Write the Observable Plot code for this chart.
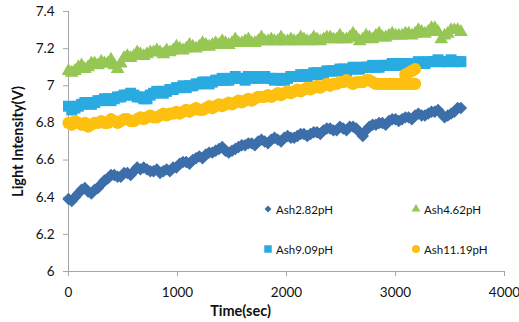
<!DOCTYPE html>
<html>
<head>
<meta charset="utf-8">
<script src="https://cdn.jsdelivr.net/npm/d3@7"></script>
<script src="https://cdn.jsdelivr.net/npm/@observablehq/plot@0.6"></script>
<style>
  html, body { margin: 0; padding: 0; background: #fff; }
  #chart { position: relative; width: 519px; height: 322px; font-family: Lato, "Open Sans", sans-serif; }
  #legend { position: absolute; left: 263px; top: 202px; display: grid;
            grid-template-columns: 148px 148px; grid-auto-rows: 40px; }
  .item { display: flex; align-items: center; height: 14px; font-size: 11.5px; color: #111; }
  .item svg { width: 10px; height: 10px; margin-right: 3px; flex: none; }
</style>
</head>
<body>
<div id="chart"></div>
<script>
// Sampling times (s), one reading every 30 s
const time = [
  0,30,60,90,120,150,180,210,240,270,300,330,360,390,420,450,480,510,540,570,
  600,630,660,690,720,750,780,810,840,870,900,930,960,990,1020,1050,1080,1110,1140,1170,
  1200,1230,1260,1290,1320,1350,1380,1410,1440,1470,1500,1530,1560,1590,1620,1650,1680,1710,1740,1770,
  1800,1830,1860,1890,1920,1950,1980,2010,2040,2070,2100,2130,2160,2190,2220,2250,2280,2310,2340,2370,
  2400,2430,2460,2490,2520,2550,2580,2610,2640,2670,2700,2730,2760,2790,2820,2850,2880,2910,2940,2970,
  3000,3030,3060,3090,3120,3150,3180,3210,3240,3270,3300,3330,3360,3390,3420,3450,3480,3510,3540,3570,
  3600];

// Light intensity (V) for each ash sample
const ash282 = [
  6.39,6.38,6.40,6.42,6.44,6.45,6.43,6.42,6.44,6.45,6.47,6.49,6.50,6.52,6.52,6.51,6.51,6.53,6.53,6.52,
  6.54,6.56,6.55,6.56,6.55,6.54,6.54,6.55,6.53,6.54,6.55,6.54,6.56,6.56,6.58,6.59,6.59,6.58,6.60,6.61,
  6.62,6.61,6.63,6.64,6.64,6.65,6.66,6.67,6.65,6.64,6.65,6.66,6.67,6.68,6.68,6.69,6.69,6.68,6.70,6.71,
  6.70,6.69,6.71,6.72,6.71,6.70,6.72,6.73,6.72,6.72,6.73,6.74,6.74,6.73,6.74,6.75,6.75,6.74,6.76,6.77,
  6.77,6.76,6.76,6.78,6.77,6.76,6.78,6.78,6.77,6.75,6.73,6.76,6.78,6.79,6.79,6.80,6.80,6.79,6.81,6.82,
  6.82,6.81,6.82,6.83,6.83,6.82,6.84,6.85,6.84,6.84,6.85,6.86,6.86,6.87,6.85,6.83,6.84,6.85,6.86,6.88,
  6.88];

const ash462 = [
  7.08,7.07,7.08,7.10,7.11,7.09,7.10,7.12,7.12,7.11,7.13,7.12,7.12,7.14,7.11,7.09,7.12,7.15,7.16,7.15,
  7.16,7.18,7.17,7.16,7.17,7.18,7.18,7.19,7.18,7.17,7.19,7.18,7.19,7.21,7.20,7.19,7.20,7.22,7.21,7.20,
  7.21,7.23,7.22,7.21,7.22,7.23,7.22,7.24,7.23,7.22,7.23,7.25,7.23,7.23,7.24,7.25,7.23,7.23,7.24,7.26,
  7.24,7.24,7.25,7.24,7.24,7.26,7.24,7.24,7.25,7.24,7.24,7.26,7.25,7.24,7.24,7.26,7.25,7.24,7.25,7.26,
  7.26,7.25,7.25,7.27,7.25,7.25,7.26,7.28,7.26,7.24,7.25,7.27,7.26,7.25,7.27,7.28,7.26,7.26,7.27,7.28,
  7.27,7.27,7.27,7.28,7.28,7.27,7.28,7.30,7.29,7.28,7.29,7.31,7.31,7.29,7.25,7.27,7.28,7.30,7.30,7.30,
  7.29];

const ash909 = [
  6.89,6.87,6.88,6.89,6.90,6.91,6.91,6.90,6.91,6.92,6.92,6.93,6.93,6.92,6.93,6.94,6.94,6.95,6.95,6.96,
  6.95,6.94,6.94,6.93,6.93,6.95,6.96,6.97,6.97,6.96,6.97,6.98,6.98,6.99,6.99,7.00,6.99,7.00,7.00,7.01,
  7.01,7.02,7.02,7.01,7.02,7.03,7.03,7.04,7.03,7.03,7.04,7.05,7.04,7.04,7.03,7.05,7.05,7.04,7.04,7.05,
  7.05,7.04,7.04,7.03,7.04,7.03,7.03,7.04,7.05,7.05,7.05,7.06,7.06,7.05,7.06,7.07,7.07,7.06,7.07,7.08,
  7.08,7.08,7.08,7.09,7.09,7.08,7.09,7.10,7.09,7.09,7.10,7.10,7.10,7.11,7.10,7.10,7.11,7.11,7.11,7.12,
  7.11,7.11,7.12,7.12,7.12,7.11,7.12,7.13,7.12,7.12,7.13,7.13,7.13,7.14,7.13,7.13,7.13,7.14,7.13,7.13,
  7.13];

// The pH 11.19 run stops at 3180 s; the last four readings sit above the plateau
const time1119 = [
  0,30,60,90,120,150,180,210,240,270,300,330,360,390,420,450,480,510,540,570,
  600,630,660,690,720,750,780,810,840,870,900,930,960,990,1020,1050,1080,1110,1140,1170,
  1200,1230,1260,1290,1320,1350,1380,1410,1440,1470,1500,1530,1560,1590,1620,1650,1680,1710,1740,1770,
  1800,1830,1860,1890,1920,1950,1980,2010,2040,2070,2100,2130,2160,2190,2220,2250,2280,2310,2340,2370,
  2400,2430,2460,2490,2520,2550,2580,2610,2640,2670,2700,2730,2760,2790,2820,2850,2880,2910,2940,2970,
  3000,3030,3060,3090,3120,3150,3180,
  3090,3120,3150,3180];
const ash1119 = [
  6.80,6.79,6.81,6.80,6.79,6.80,6.78,6.79,6.80,6.80,6.81,6.80,6.80,6.82,6.81,6.80,6.81,6.82,6.82,6.81,
  6.81,6.82,6.83,6.82,6.83,6.84,6.83,6.83,6.84,6.85,6.84,6.85,6.85,6.86,6.85,6.86,6.87,6.86,6.87,6.88,
  6.87,6.87,6.88,6.89,6.88,6.89,6.90,6.89,6.90,6.91,6.90,6.91,6.92,6.91,6.92,6.93,6.92,6.93,6.94,6.94,
  6.94,6.95,6.94,6.95,6.96,6.95,6.96,6.97,6.96,6.97,6.98,6.97,6.98,6.99,6.98,6.99,7.00,6.99,7.00,7.01,
  7.00,7.01,7.01,7.02,7.02,7.03,7.02,7.01,7.02,7.02,7.02,7.03,7.03,7.02,7.01,7.01,7.01,7.01,7.01,7.01,
  7.01,7.01,7.01,7.01,7.01,7.01,7.01,
  7.06,7.07,7.08,7.09];

const seriesNames = ["Ash2.82pH", "Ash4.62pH", "Ash9.09pH", "Ash11.19pH"];
const seriesColors = ["#3c6eaa", "#96c755", "#29abe2", "#fdc010"];
const seriesSymbols = ["diamond2", "triangle", "square", "circle"];
const seriesRadius = [5.6, 5.1, 6.2, 6.1];

const xTicks = [0, 1000, 2000, 3000, 4000];
const yTicks = [6, 6.2, 6.4, 6.6, 6.8, 7, 7.2, 7.4];

const runs = [
  {t: time, v: ash282},
  {t: time, v: ash462},
  {t: time, v: ash909},
  {t: time1119, v: ash1119}
];

const pointMarks = runs.map((run, i) =>
  Plot.dot(run.v.map((v, j) => ({t: run.t[j], v})), {
    x: "t", y: "v",
    symbol: () => seriesSymbols[i],
    r: seriesRadius[i],
    fill: seriesColors[i],
    stroke: "none"
  })
);

const axisColor = "#a6a6a6";

const chart = Plot.plot({
  width: 519,
  height: 322,
  marginLeft: 68,
  marginRight: 15,
  marginTop: 11,
  marginBottom: 51,
  style: {fontFamily: "Lato, 'Open Sans', sans-serif", fontSize: "13.5px", color: "#111", background: "#fff"},
  x: {domain: [0, 4000]},
  y: {domain: [6, 7.4]},
  marks: [
    Plot.ruleX([0], {stroke: axisColor}),
    Plot.ruleY([6], {stroke: axisColor}),
    Plot.axisX({ticks: xTicks, tickSize: 5, tickPadding: 11, stroke: axisColor, label: null, tickFormat: d => String(d)}),
    Plot.axisY({ticks: yTicks, tickSize: 5, tickPadding: 9, stroke: axisColor, label: null, tickFormat: d => String(+d.toFixed(1))}),
    ...pointMarks,
    Plot.text(["Time(sec)"], {frameAnchor: "bottom", lineAnchor: "middle", textAnchor: "middle", dx: -46, dy: 40, fontWeight: "bold", fontSize: 14.5, fill: "#111"}),
    Plot.text(["Light Intensity(V)"], {frameAnchor: "left", lineAnchor: "middle", textAnchor: "middle", rotate: -90, dx: -50, fontWeight: "bold", fontSize: 14.5, fill: "#111"})
  ]
});

const container = document.getElementById("chart");
container.appendChild(chart);

// Legend laid over the lower right of the plotting area
const legend = document.createElement("div");
legend.id = "legend";
const legendSymbols = [d3.symbolDiamond2, d3.symbolTriangle, d3.symbolSquare, d3.symbolCircle];
const legendSizes = [30, 34, 56, 50];
seriesNames.forEach((name, i) => {
  const item = document.createElement("div");
  item.className = "item";
  const svg = d3.create("svg").attr("viewBox", "-5 -5 10 10");
  svg.append("path")
    .attr("d", d3.symbol(legendSymbols[i], legendSizes[i])())
    .attr("fill", seriesColors[i]);
  item.appendChild(svg.node());
  const label = document.createElement("span");
  label.textContent = name;
  item.appendChild(label);
  legend.appendChild(item);
});
container.appendChild(legend);
</script>
</body>
</html>
